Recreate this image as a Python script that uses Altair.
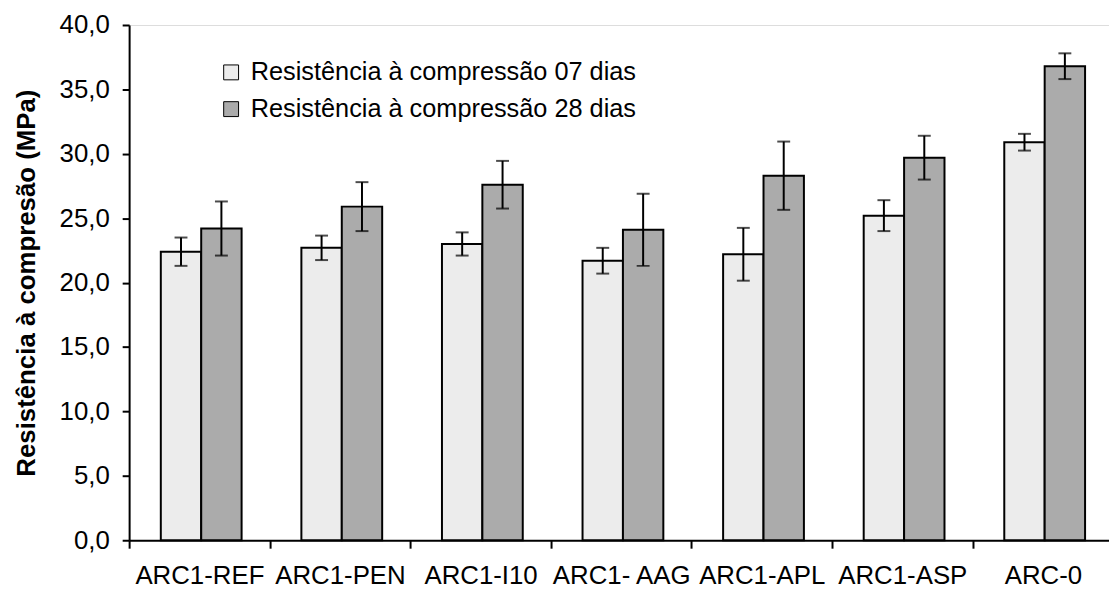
import altair as alt
import pandas as pd

categories = ["ARC1-REF", "ARC1-PEN", "ARC1-I10", "ARC1- AAG", "ARC1-APL", "ARC1-ASP", "ARC-0"]
series = ["Resistência à compressão 07 dias", "Resistência à compressão 28 dias"]
values_07 = [22.4, 22.7, 23.0, 21.7, 22.2, 25.2, 30.9]
errors_07 = [1.1, 0.95, 0.9, 1.0, 2.05, 1.2, 0.65]
values_28 = [24.2, 25.9, 27.6, 24.1, 28.3, 29.7, 36.8]
errors_28 = [2.1, 1.9, 1.85, 2.8, 2.65, 1.7, 1.0]
y_ticks = [0, 5, 10, 15, 20, 25, 30, 35, 40]

rows = []
for cat, v, e in zip(categories, values_07, errors_07):
    rows.append({"cat": cat, "serie": series[0], "v": v, "lo": v - e, "hi": v + e})
for cat, v, e in zip(categories, values_28, errors_28):
    rows.append({"cat": cat, "serie": series[1], "v": v, "lo": v - e, "hi": v + e})
df = pd.DataFrame(rows)

FONT = "Liberation Sans"
STEP = 141.6
RANGE_W = STEP * len(categories)

x_scale = alt.Scale(paddingInner=0, paddingOuter=0, range=[0, RANGE_W])
x_enc = alt.X(
    "cat:N",
    sort=categories,
    scale=x_scale,
    axis=alt.Axis(
        title=None,
        labelAngle=0,
        labelFontSize=26,
        labelFont=FONT,
        labelColor="black",
        labelPadding=15,
        tickSize=8,
        tickColor="black",
        tickWidth=2,
        tickOffset=-STEP / 2,
        labelOffset=STEP / 2,
        domainColor="black",
        domainWidth=2,
    ),
)
xoff = alt.XOffset(
    "serie:N", sort=series,
    scale=alt.Scale(paddingInner=0, paddingOuter=0.74, align=0.53),
)
y_scale = alt.Scale(domain=[0, 40], nice=False)

bars = alt.Chart(df).mark_bar(stroke="black", strokeWidth=2).encode(
    x=x_enc,
    xOffset=xoff,
    y=alt.Y(
        "v:Q",
        scale=y_scale,
        axis=alt.Axis(
            values=y_ticks,
            title="Resistência à compresão (MPa)",
            titleFont=FONT,
            titleFontSize=26,
            titleFontWeight="bold",
            titleColor="black",
            titlePadding=20,
            labelExpr="replace(format(datum.value, '.1f'), '.', ',')",
            labelFont=FONT,
            labelFontSize=26,
            labelColor="black",
            labelPadding=13,
            tickSize=7,
            tickColor="black",
            tickWidth=2,
            domainColor="black",
            domainWidth=2,
            grid=False,
        ),
    ),
    color=alt.Color(
        "serie:N",
        sort=series,
        scale=alt.Scale(domain=series, range=["#ececec", "#ababab"]),
        legend=alt.Legend(
            title=None,
            orient="none",
            legendX=90,
            legendY=35,
            padding=0,
            labelFont=FONT,
            labelFontSize=25.5,
            labelColor="black",
            labelOffset=7,
            symbolType="square",
            symbolSize=225,
            symbolStrokeColor="black",
            symbolStrokeWidth=1,
            rowPadding=10,
            labelLimit=600,
        ),
    ),
)

rules = alt.Chart(df).mark_rule(color="black", strokeWidth=2).encode(
    x=alt.X("cat:N", sort=categories, scale=x_scale),
    xOffset=xoff,
    y=alt.Y("lo:Q", scale=y_scale),
    y2="hi:Q",
)

caps_lo = alt.Chart(df).mark_tick(color="black", thickness=2, size=13, orient="horizontal").encode(
    x=alt.X("cat:N", sort=categories, scale=x_scale),
    xOffset=xoff,
    y=alt.Y("lo:Q", scale=y_scale),
)
caps_hi = alt.Chart(df).mark_tick(color="black", thickness=2, size=13, orient="horizontal").encode(
    x=alt.X("cat:N", sort=categories, scale=x_scale),
    xOffset=xoff,
    y=alt.Y("hi:Q", scale=y_scale),
)

chart = (
    alt.layer(bars, rules, caps_lo, caps_hi)
    .properties(
        width=987,
        height=519,
        autosize=alt.AutoSizeParams(type="none"),
        padding={"left": 122, "top": 15, "right": 0, "bottom": 48},
    )
    .configure_view(stroke="transparent")
    .configure(font=FONT)
)

chart.save("out.html", embed_options={"renderer": "svg", "actions": False})
